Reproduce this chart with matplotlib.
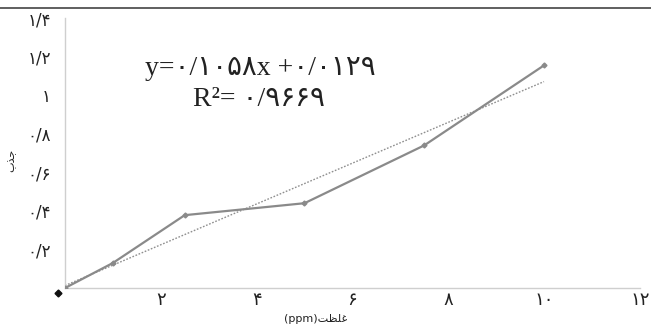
import numpy as np
import matplotlib
matplotlib.use('Agg')
import matplotlib.pyplot as plt
import matplotlib.transforms as mtransforms
from matplotlib.lines import Line2D

# concentration (ppm) and absorbance
conc = [0, 1, 2.5, 5, 7.5, 10]
absorb = [0, 0.13, 0.378, 0.44, 0.74, 1.155]

# linear fit as printed on the chart
slope = 0.1058
intercept = 0.0129

x_ticks = [2, 4, 6, 8, 10, 12]
x_labels = ['۲', '۴', '۶', '۸', '۱۰', '۱۲']
y_ticks = [0.2, 0.4, 0.6, 0.8, 1.0, 1.2, 1.4]
y_labels = ['۰/۲', '۰/۴', '۰/۶', '۰/۸', '۱', '۱/۲', '۱/۴']

eq_text = 'y=۰/۱۰۵۸x +۰/۰۱۲۹'
r2_text = 'R²= ۰/۹۶۶۹'
# visual-order presentation forms so the Persian words read correctly
xlabel = '(ppm)\uFE96\uFEC8\uFEE0\uFECF'
ylabel = '\uFE8F\uFEAC\uFE9F'

plt.rcParams['font.family'] = ['DejaVu Sans']

fig = plt.figure(figsize=(6.51, 3.24), dpi=100)
ax = fig.add_axes([0.0998, 0.111, 0.883, 0.833])

ax.plot(conc, absorb, color='#8a8a8a', lw=1.6, marker='D', ms=2.5,
        mfc='#8a8a8a', mec='#8a8a8a', zorder=3)

xf = np.array([conc[0], conc[-1]])
ax.plot(xf, slope * xf + intercept, color='#8f8f8f', lw=1.0,
        linestyle=(0, (1.2, 1.2)), zorder=2)

# black origin marker, slightly offset as in the scan
off = mtransforms.offset_copy(ax.transData, fig=fig, x=-7, y=-5, units='dots')
ax.plot([conc[0]], [absorb[0]], marker='D', ms=3.5, color='#111111',
        transform=off, clip_on=False, zorder=4)

ax.set_xlim(0, 12)
ax.set_ylim(0, 1.4)
ax.set_xticks(x_ticks)
ax.set_xticklabels(x_labels, fontsize=13, color='#222222')
ax.set_yticks(y_ticks)
ax.set_yticklabels(y_labels, fontsize=12, color='#222222')
ax.tick_params(length=0, pad=10)
ax.tick_params(axis='x', pad=2)

for s in ['top', 'right']:
    ax.spines[s].set_visible(False)
for s in ['left', 'bottom']:
    ax.spines[s].set_color('#cfcfcf')
    ax.spines[s].set_linewidth(1.0)

serif = ['Liberation Serif', 'DejaVu Sans']
ax.text(0.34, 0.815, eq_text, transform=ax.transAxes, ha='center', va='center',
        fontsize=20, color='#222222', family=serif)
ax.text(0.338, 0.70, r2_text, transform=ax.transAxes, ha='center', va='center',
        fontsize=20, color='#222222', family=serif)

fig.text(0.485, 0.0, xlabel, ha='center', va='bottom', fontsize=8, color='#222222')
fig.text(0.018, 0.505, ylabel, ha='center', va='center', rotation=90,
         fontsize=8, color='#222222')

# dark rule along the top edge of the scanned figure
fig.add_artist(Line2D([0, 1], [0.975, 0.975], transform=fig.transFigure,
                      color='#444444', lw=1.2))

fig.savefig('out.png', dpi=100)
